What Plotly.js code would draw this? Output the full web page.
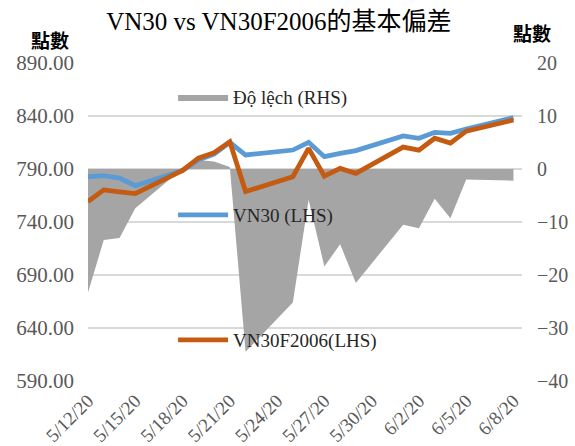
<!DOCTYPE html>
<html>
<head>
<meta charset="utf-8">
<script src="https://cdn.plot.ly/plotly-3.0.1.min.js"></script>
<style>html,body{margin:0;padding:0;background:#fff;}#chart{width:575px;height:446px;}</style>
</head>
<body>
<div id="chart"></div>
<script>
const dates = ['2020-05-12','2020-05-13','2020-05-14','2020-05-15','2020-05-18','2020-05-19','2020-05-20','2020-05-21','2020-05-22','2020-05-25','2020-05-26','2020-05-27','2020-05-28','2020-05-29','2020-06-01','2020-06-02','2020-06-03','2020-06-04','2020-06-05','2020-06-08'];
const vn30 = [782.7, 783.7, 781.5, 774.2, 788.5, 798.5, 804.0, 815.2, 803.2, 807.9, 815.2, 801.6, 804.8, 807.3, 821.2, 819.0, 824.6, 823.7, 827.7, 838.4];
const vn30f = [759.4, 770.3, 768.5, 766.8, 788.6, 800.2, 805.4, 815.6, 768.7, 782.7, 809.4, 783.2, 790.6, 785.8, 810.7, 807.8, 819.0, 814.4, 825.7, 836.2];
const basis = [-23.3, -13.4, -13.0, -7.4, 0.1, 1.7, 1.4, 0.4, -34.5, -25.2, -5.8, -18.4, -14.2, -21.5, -10.5, -11.2, -5.6, -9.3, -2.0, -2.2];
const xTickVals = ['2020-05-12','2020-05-15','2020-05-18','2020-05-21','2020-05-24','2020-05-27','2020-05-30','2020-06-02','2020-06-05','2020-06-08'];
const xTickText = ['5/12/20','5/15/20','5/18/20','5/21/20','5/24/20','5/27/20','5/30/20','6/2/20','6/5/20','6/8/20'];

const FONT = '"Liberation Serif", "Noto Sans CJK TC", serif';
const traces = [
  {x: dates, y: basis, name: 'Độ lệch (RHS)', type: 'scatter', mode: 'lines', fill: 'tozeroy',
   fillcolor: '#A5A5A5', line: {width: 0, color: '#A5A5A5'}, yaxis: 'y', legend: 'legend', hoverinfo: 'skip'},
  {x: dates, y: vn30, name: 'VN30 (LHS)', type: 'scatter', mode: 'lines',
   line: {width: 4.8, color: '#5B9BD5'}, yaxis: 'y2', legend: 'legend2'},
  {x: dates, y: vn30f, name: 'VN30F2006(LHS)', type: 'scatter', mode: 'lines',
   line: {width: 4.8, color: '#C55A11'}, yaxis: 'y2', legend: 'legend3'}
];
const legBase = {xanchor: 'left', yanchor: 'middle', bgcolor: 'rgba(0,0,0,0)', itemwidth: 50,
  font: {family: FONT, size: 19, color: '#262626'}};
const layout = {
  width: 575, height: 446,
  margin: {l: 88, r: 53, t: 63, b: 65},
  paper_bgcolor: '#fff', plot_bgcolor: '#fff',
  showlegend: true,
  title: {text: 'VN30 vs VN30F2006的基本偏差', font: {family: FONT, size: 25, color: '#000'}, x: 0.485, xanchor: 'center', y: 0.952, yanchor: 'middle'},
  xaxis: {type: 'date', range: ['2020-05-12', '2020-06-08 13:00'], tickvals: xTickVals, ticktext: xTickText,
    tickangle: -45, showgrid: false, zeroline: false, showline: false, ticks: '',
    tickfont: {family: FONT, size: 19, color: '#595959'}, ticklabelstandoff: 4},
  yaxis: {side: 'right', range: [-40, 20], dtick: 10, tick0: 0, showgrid: true, gridcolor: '#D9D9D9', gridwidth: 1.3,
    zeroline: false, showline: false, ticks: '', tickfont: {family: FONT, size: 20, color: '#595959'}, ticklabelstandoff: 14},
  yaxis2: {overlaying: 'y', side: 'left', range: [590, 890], dtick: 50, tick0: 590, tickformat: '.2f', showgrid: false,
    zeroline: false, showline: false, ticks: '', tickfont: {family: FONT, size: 21, color: '#595959'}, ticklabelstandoff: 13},
  legend: Object.assign({}, legBase, {x: 0.196, y: 0.893}),
  legend2: Object.assign({}, legBase, {x: 0.196, y: 0.522}),
  legend3: Object.assign({}, legBase, {x: 0.196, y: 0.129}),
  annotations: [
    {text: '<b>點數</b>', xref: 'paper', yref: 'paper', x: -0.087, y: 1.075, xanchor: 'center', yanchor: 'middle', showarrow: false,
     font: {family: '"Noto Sans CJK TC", sans-serif', size: 19, color: '#000'}},
    {text: '<b>點數</b>', xref: 'paper', yref: 'paper', x: 1.023, y: 1.095, xanchor: 'center', yanchor: 'middle', showarrow: false,
     font: {family: '"Noto Sans CJK TC", sans-serif', size: 19, color: '#000'}}
  ]
};
Plotly.newPlot('chart', traces, layout, {displayModeBar: false, staticPlot: true});
</script>
</body>
</html>
